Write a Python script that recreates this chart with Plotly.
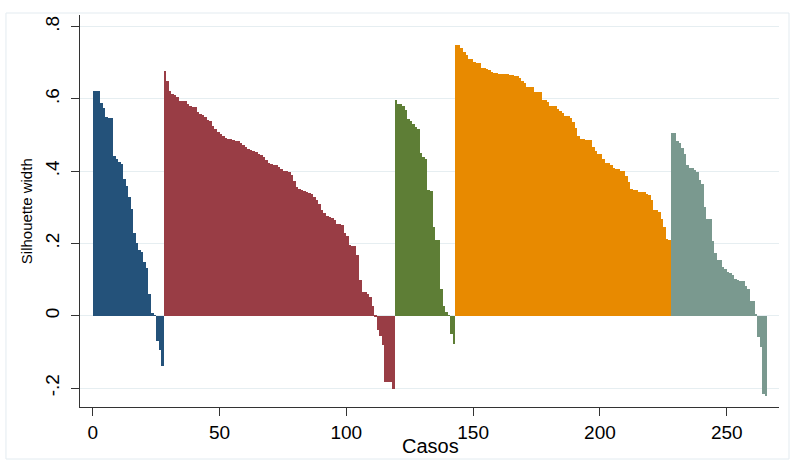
import numpy as np
import plotly.graph_objects as go

# Silhouette widths per cluster (cases sorted within each cluster)
cluster1 = [0.621, 0.621, 0.621, 0.590, 0.575, 0.550, 0.548, 0.548, 0.441, 0.435,
            0.425, 0.421, 0.378, 0.359, 0.329, 0.296, 0.230, 0.200, 0.181, 0.176,
            0.149, 0.132, 0.061, 0.007, 0.002, -0.071, -0.096, -0.138]
cluster2 = [0.677, 0.649, 0.621, 0.615, 0.610, 0.606, 0.594, 0.594, 0.594, 0.587,
            0.580, 0.578, 0.578, 0.564, 0.559, 0.555, 0.550, 0.543, 0.538, 0.524,
            0.518, 0.509, 0.502, 0.497, 0.492, 0.489, 0.489, 0.486, 0.484, 0.483,
            0.478, 0.472, 0.467, 0.462, 0.458, 0.456, 0.453, 0.449, 0.444, 0.439,
            0.430, 0.424, 0.419, 0.416, 0.416, 0.412, 0.407, 0.402, 0.402, 0.397,
            0.389, 0.373, 0.356, 0.352, 0.347, 0.345, 0.342, 0.340, 0.338, 0.330,
            0.319, 0.310, 0.292, 0.283, 0.276, 0.273, 0.271, 0.266, 0.253, 0.253,
            0.250, 0.229, 0.222, 0.195, 0.192, 0.192, 0.169, 0.098, 0.065, 0.065,
            0.061, 0.053, 0.028, -0.004, -0.039, -0.057, -0.082, -0.184, -0.184, -0.184,
            -0.202]
cluster3 = [0.596, 0.587, 0.587, 0.581, 0.569, 0.544, 0.538, 0.532, 0.522, 0.518,
            0.450, 0.438, 0.435, 0.347, 0.344, 0.245, 0.209, 0.209, 0.075, 0.028,
            0.010, 0.002, -0.050, -0.078]
cluster4 = [0.749, 0.749, 0.740, 0.729, 0.721, 0.712, 0.712, 0.703, 0.700, 0.700,
            0.686, 0.686, 0.682, 0.679, 0.675, 0.673, 0.673, 0.669, 0.669, 0.668,
            0.668, 0.666, 0.666, 0.663, 0.663, 0.658, 0.650, 0.643, 0.633, 0.633,
            0.633, 0.619, 0.619, 0.619, 0.596, 0.596, 0.592, 0.580, 0.580, 0.580,
            0.571, 0.567, 0.561, 0.552, 0.552, 0.546, 0.536, 0.521, 0.497, 0.488,
            0.488, 0.486, 0.486, 0.486, 0.467, 0.456, 0.447, 0.447, 0.435, 0.423,
            0.423, 0.416, 0.410, 0.405, 0.405, 0.400, 0.400, 0.386, 0.370, 0.352,
            0.347, 0.347, 0.342, 0.342, 0.342, 0.338, 0.333, 0.319, 0.292, 0.292,
            0.287, 0.269, 0.245, 0.213, 0.209]
cluster5 = [0.506, 0.506, 0.484, 0.479, 0.465, 0.449, 0.418, 0.409, 0.409, 0.404,
            0.398, 0.377, 0.366, 0.301, 0.269, 0.269, 0.207, 0.173, 0.153, 0.153,
            0.135, 0.128, 0.121, 0.118, 0.112, 0.102, 0.098, 0.095, 0.095, 0.082,
            0.073, 0.042, 0.042, 0.003, -0.059, -0.087, -0.216, -0.221]

clusters = [cluster1, cluster2, cluster3, cluster4, cluster5]
colors = ["#24527a", "#993d45", "#5e7e36", "#e88a00", "#7a998f"]

x_ticks = [0, 50, 100, 150, 200, 250]
y_ticks = [-0.2, 0, 0.2, 0.4, 0.6, 0.8]
y_tick_labels = ["-.2", "0", ".2", ".4", ".6", ".8"]

FONT = "Liberation Sans, Arial, sans-serif"

fig = go.Figure()
start = 0
for vals, col in zip(clusters, colors):
    x = np.arange(start, start + len(vals)) + 0.5
    fig.add_trace(go.Bar(x=x, y=vals, width=1.0,
                         marker=dict(color=col, line=dict(width=0)),
                         showlegend=False))
    start += len(vals)

fig.update_layout(
    width=792, height=460,
    margin=dict(l=80, r=13, t=15, b=53),
    paper_bgcolor="white", plot_bgcolor="white",
    bargap=0,
    font=dict(family=FONT, color="#000000"),
    xaxis=dict(range=[-5.0, 270.6], tickvals=x_ticks, ticks="outside", ticklen=8,
               tickcolor="#333333", tickwidth=1, showline=True, linecolor="#333333",
               linewidth=1, showgrid=False, zeroline=False, automargin=False,
               tickfont=dict(size=19, family=FONT, color="#000000")),
    yaxis=dict(range=[-0.2526, 0.8324], tickvals=y_ticks, ticktext=y_tick_labels,
               tickangle=-90, ticks="outside", ticklen=8, tickcolor="#333333",
               tickwidth=1, showline=True, linecolor="#333333", linewidth=1,
               showgrid=True, gridcolor="#e6eef1", gridwidth=1.3, zeroline=False,
               automargin=False, ticklabelstandoff=4,
               tickfont=dict(size=19, family=FONT, color="#000000")),
    annotations=[
        dict(text="Casos", xref="paper", yref="paper", x=0.5017, y=-0.100,
             xanchor="center", yanchor="middle", showarrow=False,
             font=dict(size=20, family=FONT, color="#000000")),
        dict(text="Silhouette width", xref="paper", yref="paper", x=-0.077, y=0.5,
             xanchor="center", yanchor="middle", showarrow=False, textangle=-90,
             font=dict(size=15, family=FONT, color="#000000")),
    ],
    shapes=[dict(type="rect", xref="paper", yref="paper", x0=-0.1059, x1=1.0143,
                 y0=-0.1327, y1=1.0051, line=dict(color="#e3ebf0", width=1),
                 layer="below")],
)

fig.write_html("out.html", config={"displayModeBar": False},
               post_script="document.body.style.margin='0';document.body.style.overflow='hidden';")
